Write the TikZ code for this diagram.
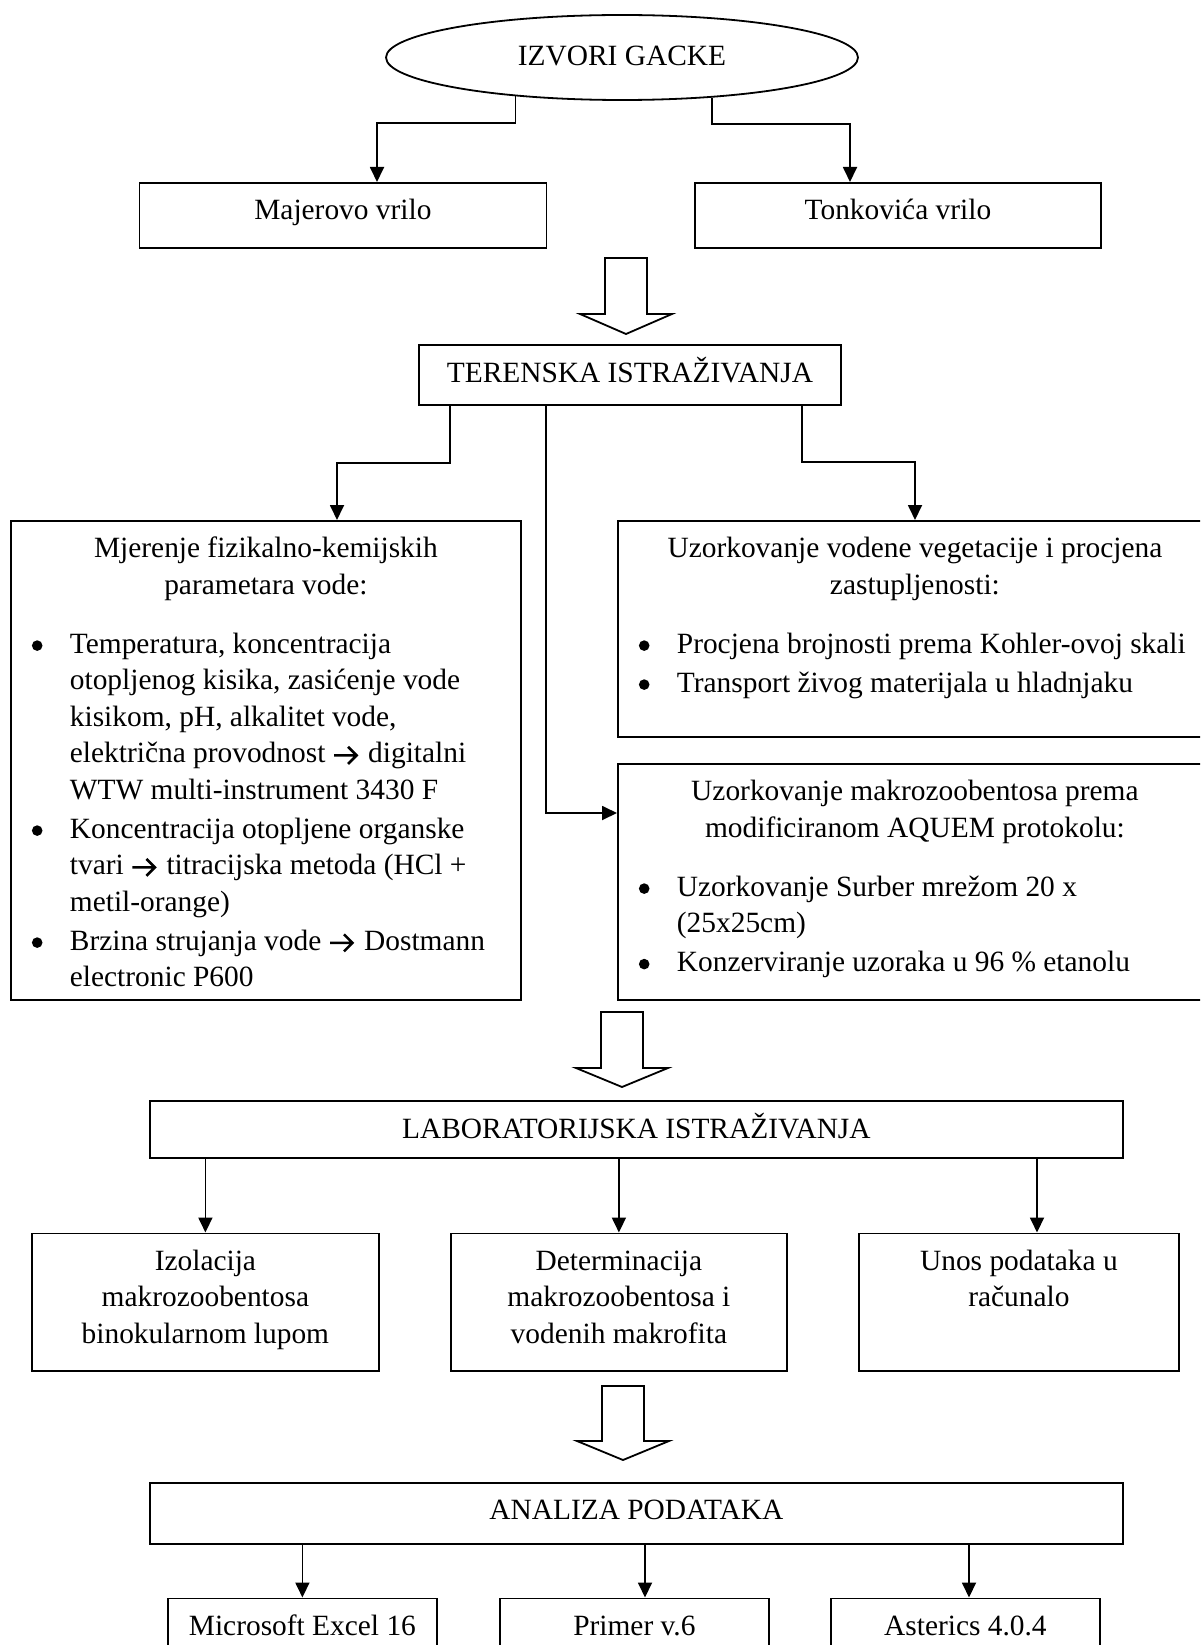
\documentclass[tikz,border=0pt]{standalone}
\usepackage{fontspec}
\setmainfont{Liberation Serif}
\usetikzlibrary{arrows.meta,shapes.geometric}

\newcommand\btx[3]{\begin{minipage}[t][#2][t]{#1}\vspace*{12pt}\centering\rule{0pt}{25pt}#3\end{minipage}}
\newcommand\bstart{\par\vspace{20pt}\leftskip=0pt\rightskip=0pt plus 1fil\parfillskip=0pt}
\newcommand\bulletdot{\tikz[baseline=0pt]{\fill[black] (5.3pt,7.8pt) circle[radius=5.3pt];}}
\newcommand\bitem{\par\vspace{2.5pt}\noindent\hangindent=59pt\hangafter=1\hspace*{21pt}\makebox[38pt][l]{\bulletdot}\ignorespaces}
\newcommand\txtarrow{\tikz[baseline=0pt]{\draw[line width=2.6pt, line join=miter, line cap=butt] (1pt,7.5pt) -- (22pt,7.5pt) (15pt,16pt) -- (23.5pt,7.5pt) -- (15pt,-1pt);}\hspace{3pt}}

\begin{document}
\begin{tikzpicture}[x=1pt,y=-1pt,
  every node/.style={font=\fontsize{29.4pt}{36.5pt}\selectfont},
  box/.style={draw, line width=1.8pt, rectangle, inner sep=0pt, anchor=north west},
  conn/.style={line width=1.8pt, -{Triangle[length=15pt,width=14pt]}},
  hollow/.style={draw, line width=1.8pt, fill=white, line join=miter}]

\useasboundingbox (0,0) rectangle (1200,1645);
\fill[white] (0,0) rectangle (1200,1645);
\clip (0,0) rectangle (1200,1645);

% nodes
\node[draw, ellipse, line width=1.8pt, minimum width=472pt, minimum height=85pt, inner sep=0pt] (ell) at (622,57.5) {\raisebox{2.5pt}{IZVORI GACKE}};
\node[box] (maj) at (138.5,182) {\btx{407pt}{65pt}{Majerovo vrilo}};
\node[box] (ton) at (694,182) {\btx{406pt}{65pt}{Tonkovića vrilo}};
\node[box] (ter) at (418,344) {\btx{422pt}{60pt}{TERENSKA ISTRAŽIVANJA}};

\node[box] (mj) at (10,520) {\btx{510pt}{479pt}{Mjerenje fizikalno-kemijskih\\parametara vode:%
  \bstart
  \bitem Temperatura, koncentracija\newline otopljenog kisika, zasićenje vode\newline kisikom, pH, alkalitet vode,\newline električna provodnost \txtarrow{} digitalni\newline WTW multi-instrument 3430 F
  \bitem Koncentracija otopljene organske\newline tvari \txtarrow{} titracijska metoda (HCl +\newline metil-orange)
  \bitem Brzina strujanja vode \txtarrow{} Dostmann\newline electronic P600}};

\node[box] (veg) at (617,520) {\btx{594pt}{216pt}{Uzorkovanje vodene vegetacije i procjena\\zastupljenosti:%
  \bstart
  \bitem Procjena brojnosti prema Kohler-ovoj skali
  \bitem Transport živog materijala u hladnjaku}};

\node[box] (mak) at (617,763) {\btx{594pt}{236pt}{Uzorkovanje makrozoobentosa prema\\modificiranom AQUEM protokolu:%
  \bstart
  \bitem Uzorkovanje Surber mrežom 20 x\newline (25x25cm)
  \bitem Konzerviranje uzoraka u 96 \% etanolu}};

\node[box] (lab) at (149,1100) {\btx{973pt}{57pt}{LABORATORIJSKA ISTRAŽIVANJA}};
\node[box] (b1) at (31,1232.5) {\btx{347pt}{137.5pt}{Izolacija\\makrozoobentosa\\binokularnom lupom}};
\node[box] (b2) at (450,1232.5) {\btx{336pt}{137.5pt}{Determinacija\\makrozoobentosa i\\vodenih makrofita}};
\node[box] (b3) at (858,1232.5) {\btx{320pt}{137.5pt}{Unos podataka u\\računalo}};

\node[box] (ana) at (149,1482) {\btx{973pt}{61pt}{ANALIZA PODATAKA}};
\node[box] (e1) at (167,1597.5) {\btx{269pt}{70pt}{Microsoft Excel 16}};
\node[box] (e2) at (499,1597.5) {\btx{269pt}{70pt}{Primer v.6}};
\node[box] (e3) at (830,1597.5) {\btx{269pt}{70pt}{Asterics 4.0.4}};

% connectors
\draw[conn] (ell.200.6) -- ++(0,27) -| ([xshift=238.5pt]maj.north west);
\draw[conn] (ell.-24.7) -- ++(0,26) -| ([xshift=156pt]ton.north west);

\draw[conn] ([xshift=32pt]ter.south west) -- ++(0,57) -| ([xshift=327pt]mj.north west);
\draw[conn] ([xshift=384pt]ter.south west) -- ++(0,56) -| ([xshift=298pt]veg.north west);
\draw[conn] ([xshift=128pt]ter.south west) |- ([yshift=-50pt]mak.north west);

\coordinate (b3in) at ([xshift=179pt]b3.north west);
\draw[conn] (lab.south -| b1.north) -- (b1.north);
\draw[conn] (lab.south -| b2.north) -- (b2.north);
\draw[conn] (lab.south -| b3in) -- (b3in);

\coordinate (e2in) at ([xshift=146pt]e2.north west);
\coordinate (e3in) at ([xshift=139pt]e3.north west);
\draw[conn] (ana.south -| e1.north) -- (e1.north);
\draw[conn] (ana.south -| e2in) -- (e2in);
\draw[conn] (ana.south -| e3in) -- (e3in);

% hollow block arrows
\draw[hollow] (605,258) -- (605,314) -- (580,314) -- (626,334) -- (672,314) -- (647,314) -- (647,258) -- cycle;
\draw[hollow] (601,1012) -- (601,1068) -- (576,1068) -- (622,1087) -- (668,1068) -- (643,1068) -- (643,1012) -- cycle;
\draw[hollow] (602,1386) -- (602,1441) -- (577,1441) -- (623,1460) -- (669,1441) -- (644,1441) -- (644,1386) -- cycle;
\end{tikzpicture}
\end{document}
